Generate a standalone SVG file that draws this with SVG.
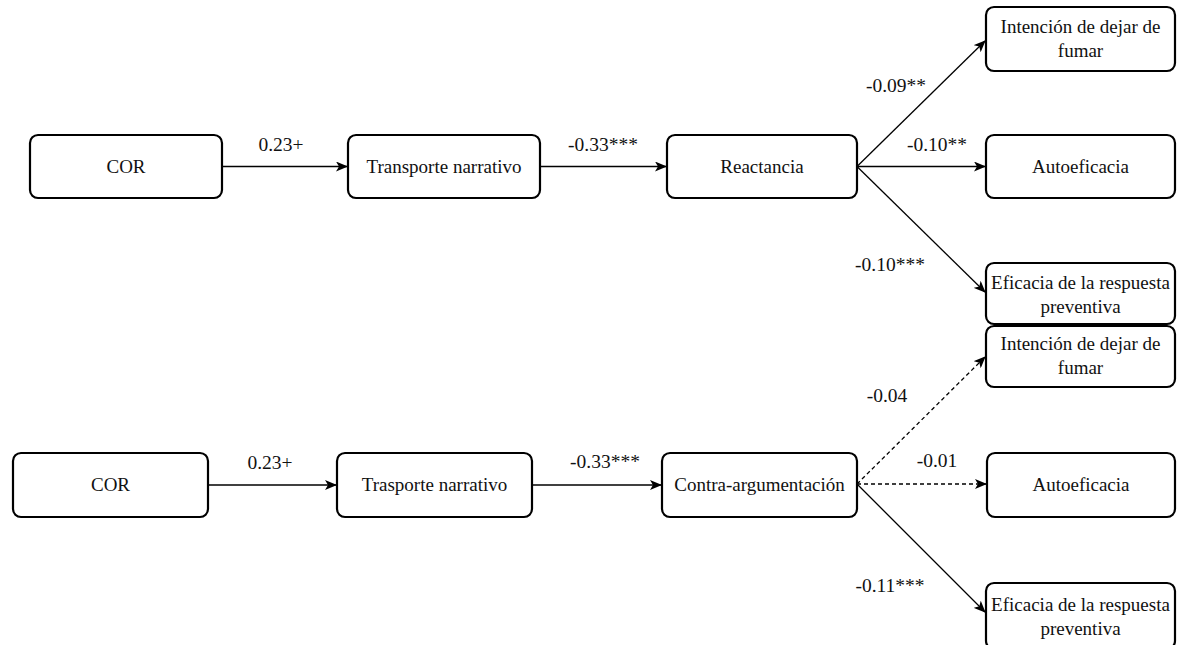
<svg xmlns="http://www.w3.org/2000/svg" width="1179" height="645" viewBox="0 0 1179 645">
  <style>
    .box { fill: #ffffff; stroke: #000000; stroke-width: 2.2; }
    .lbl { font-family: 'Liberation Serif', 'Times New Roman', 'DejaVu Serif', serif; font-size: 19px; fill: #111111; text-anchor: middle; }
    .coef { font-size: 19.5px; }
    .edge { fill: none; stroke: #000000; stroke-width: 1.3; marker-end: url(#arrow); }
    .dash { stroke-dasharray: 4 3; }
  </style>
  <defs>
    <marker id="arrow" markerUnits="userSpaceOnUse" viewBox="0 0 12 10" markerWidth="12" markerHeight="10" refX="11" refY="5" orient="auto">
      <path d="M0,0 L12,5 L0,10 L3,5 Z" fill="#000000"/>
    </marker>
  </defs>
  <rect width="1179" height="645" fill="#ffffff"/>

  <!-- connectors -->
  <g id="connectors">
    <!-- upper model -->
    <line class="edge" x1="222" y1="166.5" x2="347" y2="166.5"/>
    <line class="edge" x1="540" y1="166.5" x2="666" y2="166.5"/>
    <line class="edge" x1="857" y1="166.5" x2="985" y2="41"/>
    <line class="edge" x1="857" y1="166.5" x2="985" y2="166.5"/>
    <line class="edge" x1="857" y1="166.5" x2="985" y2="292"/>
    <!-- lower model -->
    <line class="edge" x1="208" y1="485" x2="336" y2="485"/>
    <line class="edge" x1="532" y1="485" x2="661" y2="485"/>
    <line class="edge dash" x1="857" y1="484" x2="985" y2="357"/>
    <line class="edge dash" x1="857" y1="484" x2="986" y2="484"/>
    <line class="edge" x1="857" y1="484" x2="985" y2="612"/>

    <text class="lbl coef" x="281" y="151">0.23+</text>
    <text class="lbl coef" x="603" y="151">-0.33***</text>
    <text class="lbl coef" x="896" y="92">-0.09**</text>
    <text class="lbl coef" x="937" y="151">-0.10**</text>
    <text class="lbl coef" x="890" y="271">-0.10***</text>

    <text class="lbl coef" x="270" y="469">0.23+</text>
    <text class="lbl coef" x="605" y="468">-0.33***</text>
    <text class="lbl coef" x="887" y="402">-0.04</text>
    <text class="lbl coef" x="937" y="467">-0.01</text>
    <text class="lbl coef" x="890" y="592">-0.11***</text>
  </g>

  <!-- upper model nodes -->
  <g id="cor1">
    <rect class="box" x="30" y="135" width="192" height="63" rx="8"/>
    <text class="lbl" x="126" y="173">COR</text>
  </g>
  <g id="transporte1">
    <rect class="box" x="348" y="135" width="192" height="63" rx="8"/>
    <text class="lbl" x="444" y="173">Transporte narrativo</text>
  </g>
  <g id="reactancia">
    <rect class="box" x="667" y="135" width="190" height="63" rx="8"/>
    <text class="lbl" x="762" y="173">Reactancia</text>
  </g>
  <g id="intencion1">
    <rect class="box" x="986" y="7" width="189" height="64" rx="8"/>
    <text class="lbl" x="1080.5" y="33">Intención de dejar de</text>
    <text class="lbl" x="1080.5" y="57">fumar</text>
  </g>
  <g id="autoeficacia1">
    <rect class="box" x="986" y="135" width="189" height="63" rx="8"/>
    <text class="lbl" x="1080.5" y="173">Autoeficacia</text>
  </g>
  <g id="eficacia1">
    <rect class="box" x="986" y="263" width="189" height="61" rx="8"/>
    <text class="lbl" x="1080.5" y="289">Eficacia de la respuesta</text>
    <text class="lbl" x="1080.5" y="313">preventiva</text>
  </g>

  <!-- lower model nodes -->
  <g id="cor2">
    <rect class="box" x="13" y="453" width="195" height="64" rx="8"/>
    <text class="lbl" x="110.5" y="491">COR</text>
  </g>
  <g id="trasporte2">
    <rect class="box" x="337" y="453" width="195" height="64" rx="8"/>
    <text class="lbl" x="434.5" y="491">Trasporte narrativo</text>
  </g>
  <g id="contraargumentacion">
    <rect class="box" x="662" y="453" width="195" height="64" rx="8"/>
    <text class="lbl" x="759.5" y="491">Contra-argumentación</text>
  </g>
  <g id="intencion2">
    <rect class="box" x="986" y="326" width="189" height="61" rx="8"/>
    <text class="lbl" x="1080.5" y="350">Intención de dejar de</text>
    <text class="lbl" x="1080.5" y="374">fumar</text>
  </g>
  <g id="autoeficacia2">
    <rect class="box" x="987" y="453" width="188" height="64" rx="8"/>
    <text class="lbl" x="1081" y="491">Autoeficacia</text>
  </g>
  <g id="eficacia2">
    <rect class="box" x="986" y="583" width="189" height="66" rx="8"/>
    <text class="lbl" x="1080.5" y="611">Eficacia de la respuesta</text>
    <text class="lbl" x="1080.5" y="635">preventiva</text>
  </g>
</svg>
